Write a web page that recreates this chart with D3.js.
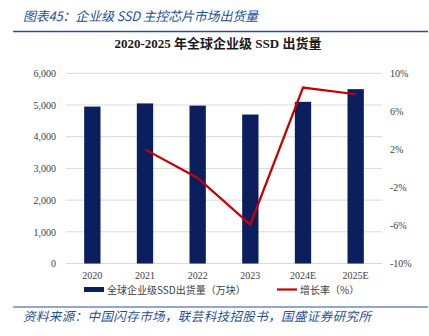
<!DOCTYPE html>
<html><head><meta charset="utf-8">
<script src="https://cdn.jsdelivr.net/npm/d3@7"></script>
<style>html,body{margin:0;padding:0;background:#fff;}svg{display:block;}</style>
</head><body>
<script>
const categories = ["2020","2021","2022","2023","2024E","2025E"];
const shipments = [4950, 5050, 4980, 4700, 5100, 5500];
const growth = [null, 2.0, -1.0, -5.9, 8.5, 7.8];
const leftTicks = [0,1000,2000,3000,4000,5000,6000];
const rightTicks = [-10,-6,-2,2,6,10];

const W = 429, H = 336;
const svg = d3.select("body").append("svg").attr("width", W).attr("height", H);

const plot = {left: 66, right: 382, top: 73.3, bottom: 263.5};
const x = d3.scaleBand().domain(categories).range([plot.left, plot.right]).paddingInner(0.69).paddingOuter(0.345);
const yL = d3.scaleLinear().domain([0, 6000]).range([plot.bottom, plot.top]);
const yR = d3.scaleLinear().domain([-10, 10]).range([plot.bottom, plot.top]);

// header
svg.append("text").attr("x", 23).attr("y", 20.5)
  .attr("font-family", "'Noto Sans CJK SC', sans-serif").attr("font-style", "italic")
  .attr("font-size", 13).attr("fill", "#2a4f9a")
  .attr("textLength", 235).attr("lengthAdjust", "spacing")
  .text("图表45：企业级 SSD 主控芯片市场出货量");
svg.append("line").attr("x1", 13).attr("x2", 428).attr("y1", 31.5).attr("y2", 31.5)
  .attr("stroke", "#2a4f9a").attr("stroke-width", 1.5);

// title
svg.append("text").attr("x", 218).attr("y", 48).attr("text-anchor", "middle")
  .attr("font-family", "'Liberation Serif', 'Noto Sans CJK SC', serif").attr("font-weight", "bold")
  .attr("font-size", 13).attr("fill", "#1a1a1a").text("2020-2025 年全球企业级 SSD 出货量");

// gridlines
svg.append("g").selectAll("line").data(leftTicks).join("line")
  .attr("x1", plot.left).attr("x2", plot.right)
  .attr("y1", d => yL(d)).attr("y2", d => yL(d))
  .attr("stroke", "#d9d9d9").attr("stroke-width", 1);

// left axis
const axL = d3.axisLeft(yL).tickValues(leftTicks).tickFormat(d3.format(",")).tickSize(0).tickPadding(0);
const gL = svg.append("g").attr("transform", `translate(56,0)`).call(axL);
gL.select(".domain").remove();
gL.selectAll("text").attr("font-family", "'Liberation Serif', serif").attr("font-size", 10).attr("fill", "#404040");

// right axis
const axR = d3.axisRight(yR).tickValues(rightTicks).tickFormat(d => d + "%").tickSize(0).tickPadding(0);
const gR = svg.append("g").attr("transform", `translate(390,0)`).call(axR);
gR.select(".domain").remove();
gR.selectAll("text").attr("font-family", "'Liberation Serif', serif").attr("font-size", 10).attr("fill", "#404040");

// bottom axis
const axB = d3.axisBottom(x).tickSize(0).tickPadding(0);
const gB = svg.append("g").attr("transform", `translate(0,${plot.bottom + 8})`).call(axB);
gB.select(".domain").remove();
gB.selectAll("text").attr("font-family", "'Liberation Serif', serif").attr("font-size", 10).attr("fill", "#404040");

// bars
svg.append("g").selectAll("rect").data(categories).join("rect")
  .attr("x", d => x(d)).attr("width", x.bandwidth())
  .attr("y", (d,i) => yL(shipments[i])).attr("height", (d,i) => yL(0) - yL(shipments[i]))
  .attr("fill", "#0b1f5e");

// line
const pts = categories.map((c,i) => ({c, v: growth[i]})).filter(p => p.v !== null);
const line = d3.line().x(p => x(p.c) + x.bandwidth()/2).y(p => yR(p.v));
svg.append("path").datum(pts).attr("d", line).attr("fill", "none")
  .attr("stroke", "#c80000").attr("stroke-width", 2.2).attr("stroke-linejoin", "miter");

// legend
const lg = svg.append("g");
lg.append("rect").attr("x", 84).attr("y", 287).attr("width", 20).attr("height", 5).attr("fill", "#0b1f5e");
lg.append("text").attr("x", 107).attr("y", 293.5).attr("font-family", "'Noto Sans CJK SC', sans-serif")
  .attr("font-size", 10).attr("fill", "#404040").text("全球企业级SSD出货量（万块）");
lg.append("line").attr("x1", 277).attr("x2", 297).attr("y1", 289.5).attr("y2", 289.5)
  .attr("stroke", "#c80000").attr("stroke-width", 2.2);
lg.append("text").attr("x", 300).attr("y", 293.5).attr("font-family", "'Noto Sans CJK SC', sans-serif")
  .attr("font-size", 10).attr("fill", "#404040").text("增长率（%）");

// footer
svg.append("line").attr("x1", 13).attr("x2", 428).attr("y1", 307).attr("y2", 307)
  .attr("stroke", "#2a4f9a").attr("stroke-width", 1.2);
svg.append("text").attr("x", 23).attr("y", 321)
  .attr("font-family", "'Noto Sans CJK SC', sans-serif").attr("font-style", "italic")
  .attr("font-size", 12.5).attr("fill", "#2a4f9a")
  .attr("textLength", 348).attr("lengthAdjust", "spacing")
  .text("资料来源：中国闪存市场，联芸科技招股书，国盛证券研究所");
</script>
</body></html>
